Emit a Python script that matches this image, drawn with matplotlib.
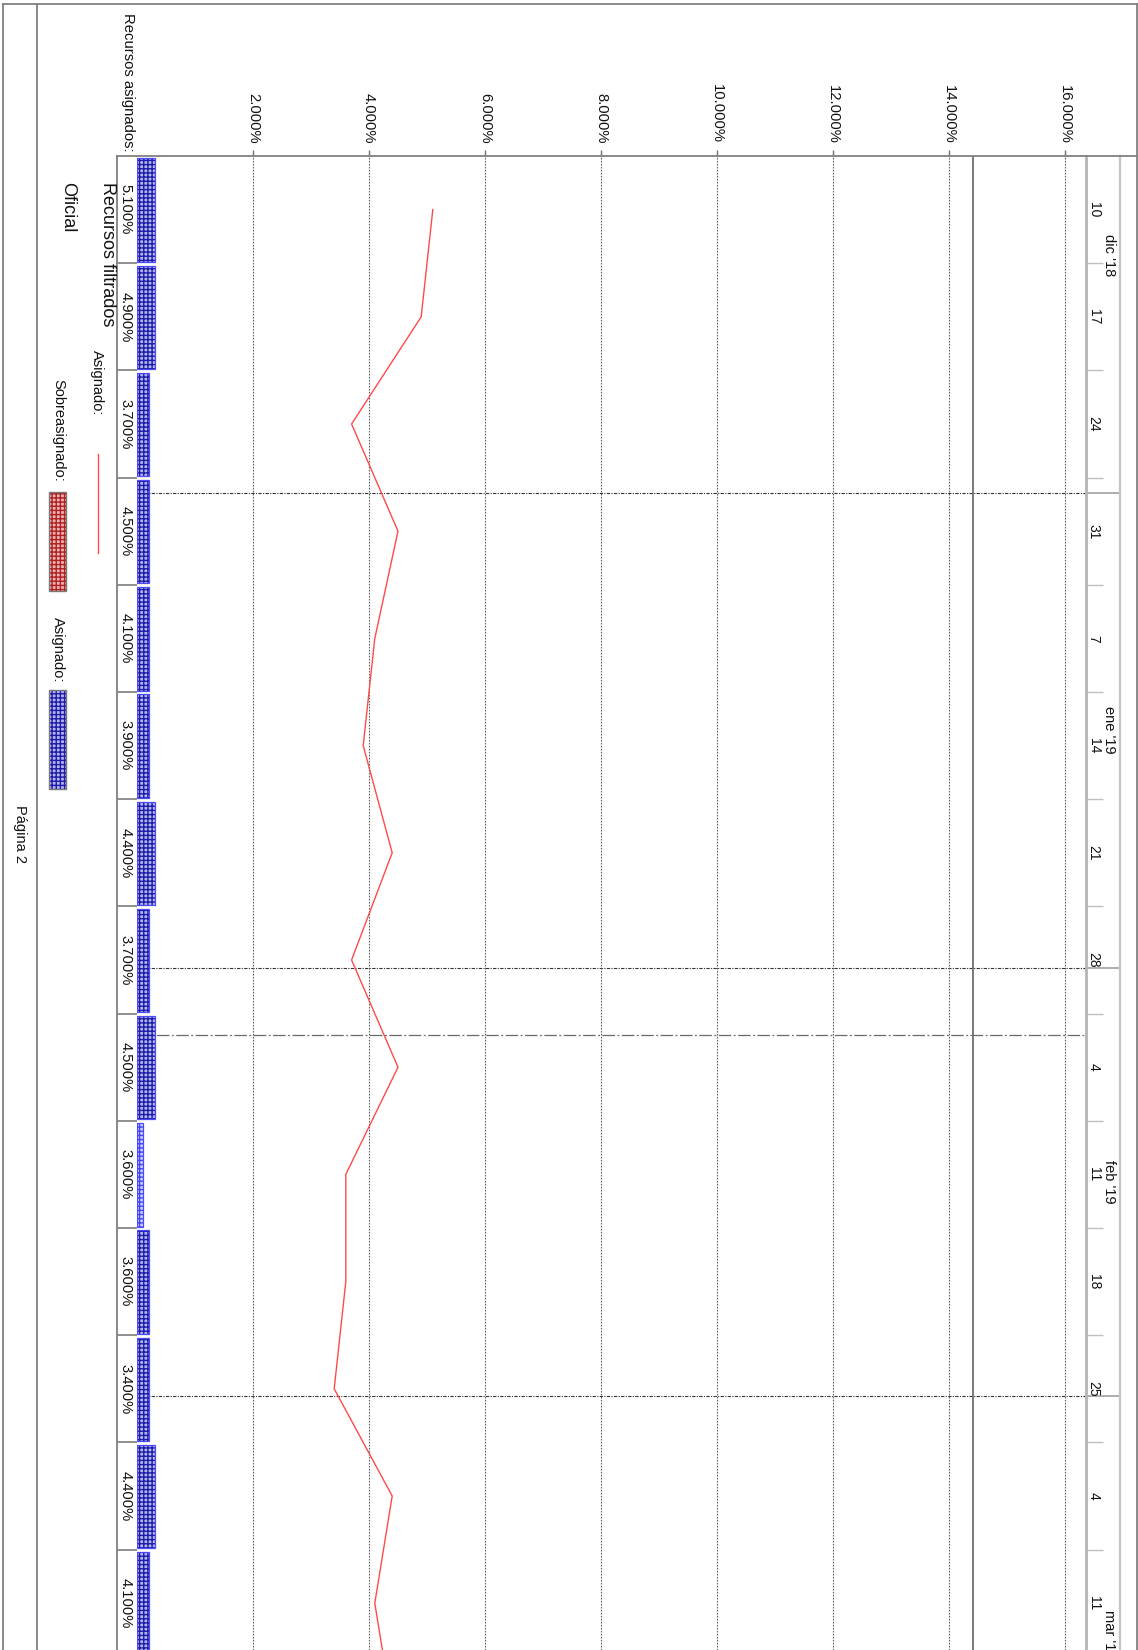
import matplotlib
matplotlib.use("Agg")
import matplotlib.pyplot as plt
from matplotlib.lines import Line2D
from matplotlib.patches import Rectangle
from matplotlib.transforms import blended_transform_factory

plt.rcParams['font.family'] = ['Liberation Sans', 'DejaVu Sans']
plt.rcParams['hatch.linewidth'] = 1.0

# ---- data -------------------------------------------------------------
# weekly rows starting Monday 10 Dec 2018 (day 0)
week_labels = ["10", "17", "24", "31", "7", "14", "21", "28", "4", "11", "18", "25", "4", "11", "18"]
assigned_pct = [5.1, 4.9, 3.7, 4.5, 4.1, 3.9, 4.4, 3.7, 4.5, 3.6, 3.6, 3.4, 4.4, 4.1, 4.4]
bar_levels = [0.31, 0.31, 0.21, 0.21, 0.21, 0.21, 0.31, 0.21, 0.31, 0.10, 0.21, 0.21, 0.31, 0.21, 0.31]
light_weeks = [9]
month_labels = ["dic '18", "ene '19", "feb '19", "mar '19"]
month_starts = [-9, 22, 53, 81, 112]          # day offsets of the 1st of each month
axis_ticks = [2, 4, 6, 8, 10, 12, 14, 16]
axis_tick_labels = ["2.000%", "4.000%", "6.000%", "8.000%", "10.000%", "12.000%", "14.000%", "16.000%"]
max_units = 14.41
status_day = 57.4

# ---- page geometry (pixels) -------------------------------------------
W, H = 1138, 1650
def fx(x):
    return x / W
def fy(y):
    return 1 - y / H

fig = plt.figure(figsize=(W / 100, H / 100), dpi=100)
fig.patch.set_facecolor("white")

TOP = 156.0
PX_PER_PCT = 58.0
PX_PER_DAY = 107.2 / 7
X0, XT0, XT1 = 137.0, 1085.7, 1120.0
day_max = (H - TOP) / PX_PER_DAY

ax = fig.add_axes([fx(X0), 0, (XT0 - X0) / W, 1 - TOP / H])
ax.set_xlim(0, (XT0 - X0) / PX_PER_PCT)
ax.set_ylim(day_max, 0)
for s in ax.spines.values():
    s.set_visible(False)
ax.xaxis.tick_top()
ax.set_xticks(axis_ticks)
ax.set_xticklabels(axis_tick_labels, rotation=-90, fontsize=10.6)
ax.tick_params(axis='x', length=4, width=1, color='#707070', pad=5, labelcolor='#111111')
ax.set_yticks([])
ax.grid(axis='x', color='#606060', lw=0.8, ls=(0, (1.5, 1.2)))

centers = [7 * i + 3.5 for i in range(len(assigned_pct))]

# month boundaries and status date
for d in month_starts[1:-1]:
    ax.axhline(d, color='#333333', lw=0.8, ls=(0, (3, 1.2, 1, 1.2)), zorder=1)
ax.axhline(status_day, color='#6a6a6a', lw=0.9, ls=(0, (10, 2, 1.5, 2)), zorder=1)
ax.axvline(max_units, color='#6e6e6e', lw=1.3, zorder=1)

# assigned histogram bars
for i, (c, v) in enumerate(zip(centers, bar_levels)):
    light = i in light_weeks
    face = '#d0d0fa' if light else '#b4b4ee'
    hatch_col = '#4444ff' if light else '#1c1ca8'
    ax.barh(c + 0.03, v, height=6.75, left=0, color=face, edgecolor=hatch_col,
            hatch='++++', lw=0, zorder=3)
    ax.barh(c + 0.03, v, height=6.75, left=0, fill=False, edgecolor='#4a4aff',
            lw=0.9, zorder=4)

# assigned line
ax.plot(assigned_pct, centers, color='#ff4a4a', lw=1.0, zorder=5)

# ---- value column on the left -----------------------------------------
axl = fig.add_axes([fx(117), 0, (X0 - 117) / W, 1 - TOP / H], sharey=ax)
axl.set_xlim(0, 1)
axl.axis('off')
axl.hlines([7 * i for i in range(1, len(assigned_pct))], 0, 1, color='#707070', lw=1.1)
tr_l = blended_transform_factory(axl.transAxes, axl.transData)
for c, v in zip(centers, assigned_pct):
    axl.text(0.44, c, f"{v:.3f}%", transform=tr_l, rotation=-90,
             ha='center', va='center', fontsize=10.6, color='#111111', clip_on=True)

# ---- timescale column on the right --------------------------------------
axt = fig.add_axes([fx(XT0), 0, (XT1 - XT0) / W, 1 - TOP / H], sharey=ax)
axt.set_xlim(0, 1)
axt.set_xticks([])
axt.tick_params(left=False, labelleft=False)
for k in ('top', 'bottom'):
    axt.spines[k].set_visible(False)
axt.spines['left'].set_color('#b4b4b4')
axt.spines['left'].set_linewidth(2.0)
axt.spines['right'].set_color('#c4c4c4')
axt.spines['right'].set_linewidth(1.6)
axt.hlines([7 * i for i in range(1, len(week_labels))], 0, 0.5, color='#c0c0c0', lw=1.0)
axt.hlines(month_starts[1:-1], 0, 1, color='#a0a0a0', lw=1.2)
tr_t = blended_transform_factory(axt.transAxes, axt.transData)
for c, lab in zip(centers, week_labels):
    axt.text(0.23, c, lab, transform=tr_t, rotation=-90, ha='center', va='center',
             fontsize=10, color='#111111')
for a, b, lab in zip(month_starts[:-1], month_starts[1:], month_labels):
    axt.text(0.69, (a + b) / 2, lab, transform=tr_t, rotation=-90, ha='center',
             va='center', fontsize=10.5, color='#111111')

# ---- page frame ---------------------------------------------------------
def fig_line(x0, y0, x1, y1, color='#808080', lw=1.3):
    fig.add_artist(Line2D([fx(x0), fx(x1)], [fy(y0), fy(y1)], color=color, lw=lw,
                          transform=fig.transFigure))

fig_line(3.3, 4.3, 1136.7, 4.3)
fig_line(3.3, 4.3, 3.3, H)
fig_line(1136.7, 4.3, 1136.7, H)
fig_line(36.7, 4.3, 36.7, H)
fig_line(117, TOP, 1136.7, TOP)
fig_line(117, TOP, 117, H)

# ---- left panel texts and legend ----------------------------------------
fig.text(fx(127.5), fy(13), "Recursos asignados:", rotation=-90, ha='center', va='top',
         fontsize=10.7, color='#111111')
fig.text(fx(107), fy(182), "Recursos filtrados", rotation=-90, ha='center', va='top',
         fontsize=13, color='#111111')
fig.text(fx(67.5), fy(182), "Oficial", rotation=-90, ha='center', va='top',
         fontsize=13, color='#111111')
fig.text(fx(97), fy(350), "Asignado:", rotation=-90, ha='center', va='top',
         fontsize=10.5, color='#111111')
fig.add_artist(Line2D([fx(97.7), fx(97.7)], [fy(454), fy(553)], color='#ff4a4a', lw=1.0,
                      transform=fig.transFigure))
fig.text(fx(58), fy(379), "Sobreasignado:", rotation=-90, ha='center', va='top',
         fontsize=10.5, color='#111111')
fig.text(fx(58), fy(617), "Asignado:", rotation=-90, ha='center', va='top',
         fontsize=10.5, color='#111111')

def legend_box(y0, y1, face, hatch_col):
    r = Rectangle((fx(49), fy(y1)), fx(66) - fx(49), fy(y0) - fy(y1), transform=fig.transFigure,
                  facecolor=face, edgecolor=hatch_col, hatch='++++', lw=0)
    fig.add_artist(r)
    fig.add_artist(Rectangle((fx(49), fy(y1)), fx(66) - fx(49), fy(y0) - fy(y1),
                             transform=fig.transFigure, fill=False, edgecolor='#7a7a7a', lw=1.0))

legend_box(492, 591, '#eab4b4', '#b02020')
legend_box(690, 789, '#b4b4ee', '#1c1ca8')

fig.text(fx(20), fy(805), "Página 2", rotation=-90, ha='center', va='top',
         fontsize=10.5, color='#111111')

fig.savefig("out.png", dpi=100, facecolor='white')
